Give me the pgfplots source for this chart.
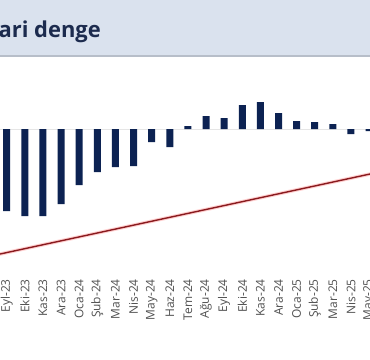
\documentclass[border=0pt]{standalone}
\usepackage{pgfplots}
\pgfplotsset{compat=1.18}
\usepackage{fontspec}
\setmainfont{Open Sans}
\definecolor{navy}{HTML}{0C2252}
\definecolor{headbg}{HTML}{DAE2EE}
\definecolor{headline}{HTML}{B7BEC9}
\definecolor{titlecol}{HTML}{1C2B4E}
\definecolor{tickgray}{HTML}{505050}
\definecolor{darkred}{HTML}{8A1A1E}
\begin{document}
\begin{tikzpicture}[x=1bp,y=1bp]
\useasboundingbox (0,0) rectangle (370,360);
\clip (0,0) rectangle (370,360);
\fill[white] (0,0) rectangle (370,360);
\fill[headbg] (0,304) rectangle (370,360);
\draw[headline, line width=2bp] (0,304) -- (370,304);
\node[anchor=base west, inner sep=0pt, font=\fontsize{22}{22}\selectfont\bfseries, text=titlecol] at (-1.5,323) {ari denge};
\begin{axis}[
  at={(0,81)}, anchor=south west, scale only axis,
  width=370bp, height=219bp,
  xmin=-0.37, xmax=20.05, ymin=-150, ymax=69,
  axis line style={draw=none},
  ytick=\empty,
  xtick={0,...,20},
  xticklabels={Eyl-23,Eki-23,Kas-23,Ara-23,Oca-24,Şub-24,Mar-24,Nis-24,May-24,Haz-24,Tem-24,Ağu-24,Eyl-24,Eki-24,Kas-24,Ara-24,Oca-25,Şub-25,Mar-25,Nis-25,May-25},
  major tick length=0pt,
  xticklabel style={rotate=90, anchor=east, inner sep=0pt, font=\fontsize{12}{12}\selectfont, text=tickgray},
]
\addplot[gray!20, line width=0.7bp] coordinates {(-1,0) (21,0)};
\addplot[ybar, bar width=7bp, fill=navy, draw=none] coordinates {
(0,-82) (1,-87) (2,-87) (3,-75) (4,-56) (5,-43) (6,-38) (7,-37) (8,-13) (9,-18)
(10,3) (11,13) (12,11) (13,24) (14,27) (15,16) (16,8) (17,7) (18,5) (19,-5) (20,-2)};
\addplot[red!60, opacity=0.3, line width=3.5bp] coordinates {(-1,-127.5) (21,-41.3)};
\addplot[darkred, line width=1.4bp] coordinates {(-1,-127.5) (21,-41.3)};
\end{axis}
\end{tikzpicture}
\end{document}
